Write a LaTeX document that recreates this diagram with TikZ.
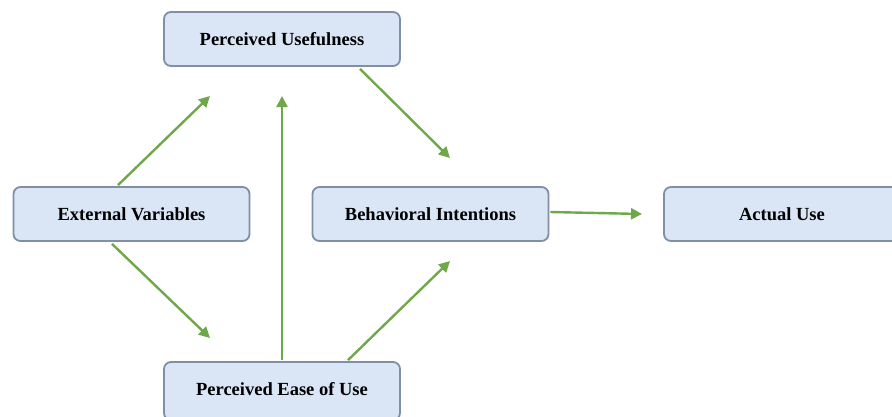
\documentclass[tikz,border=0pt]{standalone}
\usepackage{fontspec}
\setmainfont{Liberation Serif}
\usetikzlibrary{arrows.meta}
\definecolor{boxfill}{HTML}{DAE6F6}
\definecolor{boxline}{HTML}{7F8FA8}
\definecolor{arrowgreen}{HTML}{6FA84A}
\begin{document}
\begin{tikzpicture}[x=1pt,y=-1pt,
  concept/.style={draw=boxline, line width=1.8pt, fill=boxfill, rounded corners=7pt,
    minimum width=236pt, minimum height=54pt, inner sep=0pt,
    font=\fontsize{18.5}{22}\selectfont\bfseries},
  link/.style={draw=arrowgreen, line width=2.4pt,
    -{Triangle[length=11pt,width=11pt]}}]
\useasboundingbox (0,0) rectangle (892,416);
\fill[white] (0,0) rectangle (892,416);
% model constructs
\node[concept] (pu)  at (282,39)    {Perceived Usefulness};
\node[concept] (ev)  at (131.5,214) {External Variables};
\node[concept] (bi)  at (430.5,214) {Behavioral Intentions};
\node[concept] (au)  at (782,214)   {Actual Use};
\node[concept, minimum height=58pt, text depth=4pt] (peu) at (282,391) {Perceived Ease of Use};
% arrow end points
\coordinate (puIn1) at (210,96);
\coordinate (puIn2) at (282,96);
\coordinate (peuIn) at (210,338);
\coordinate (biIn1) at (450,158);
\coordinate (biIn2) at (450,261);
\coordinate (auIn)  at (642,214);
% relations
\draw[link] (ev.north -| 118,0) ++(0,-1) -- (puIn1);
\draw[link] (ev.south -| 112,0) ++(0,2) -- (peuIn);
\draw[link] (peu.north) ++(0,-1) -- (puIn2);
\draw[link] (pu.south -| 360,0) ++(0,2) -- (biIn1);
\draw[link] (peu.north -| 348,0) ++(0,-1) -- (biIn2);
\draw[link] (bi.east) ++(1,-2) -- (auIn);
\end{tikzpicture}
\end{document}
